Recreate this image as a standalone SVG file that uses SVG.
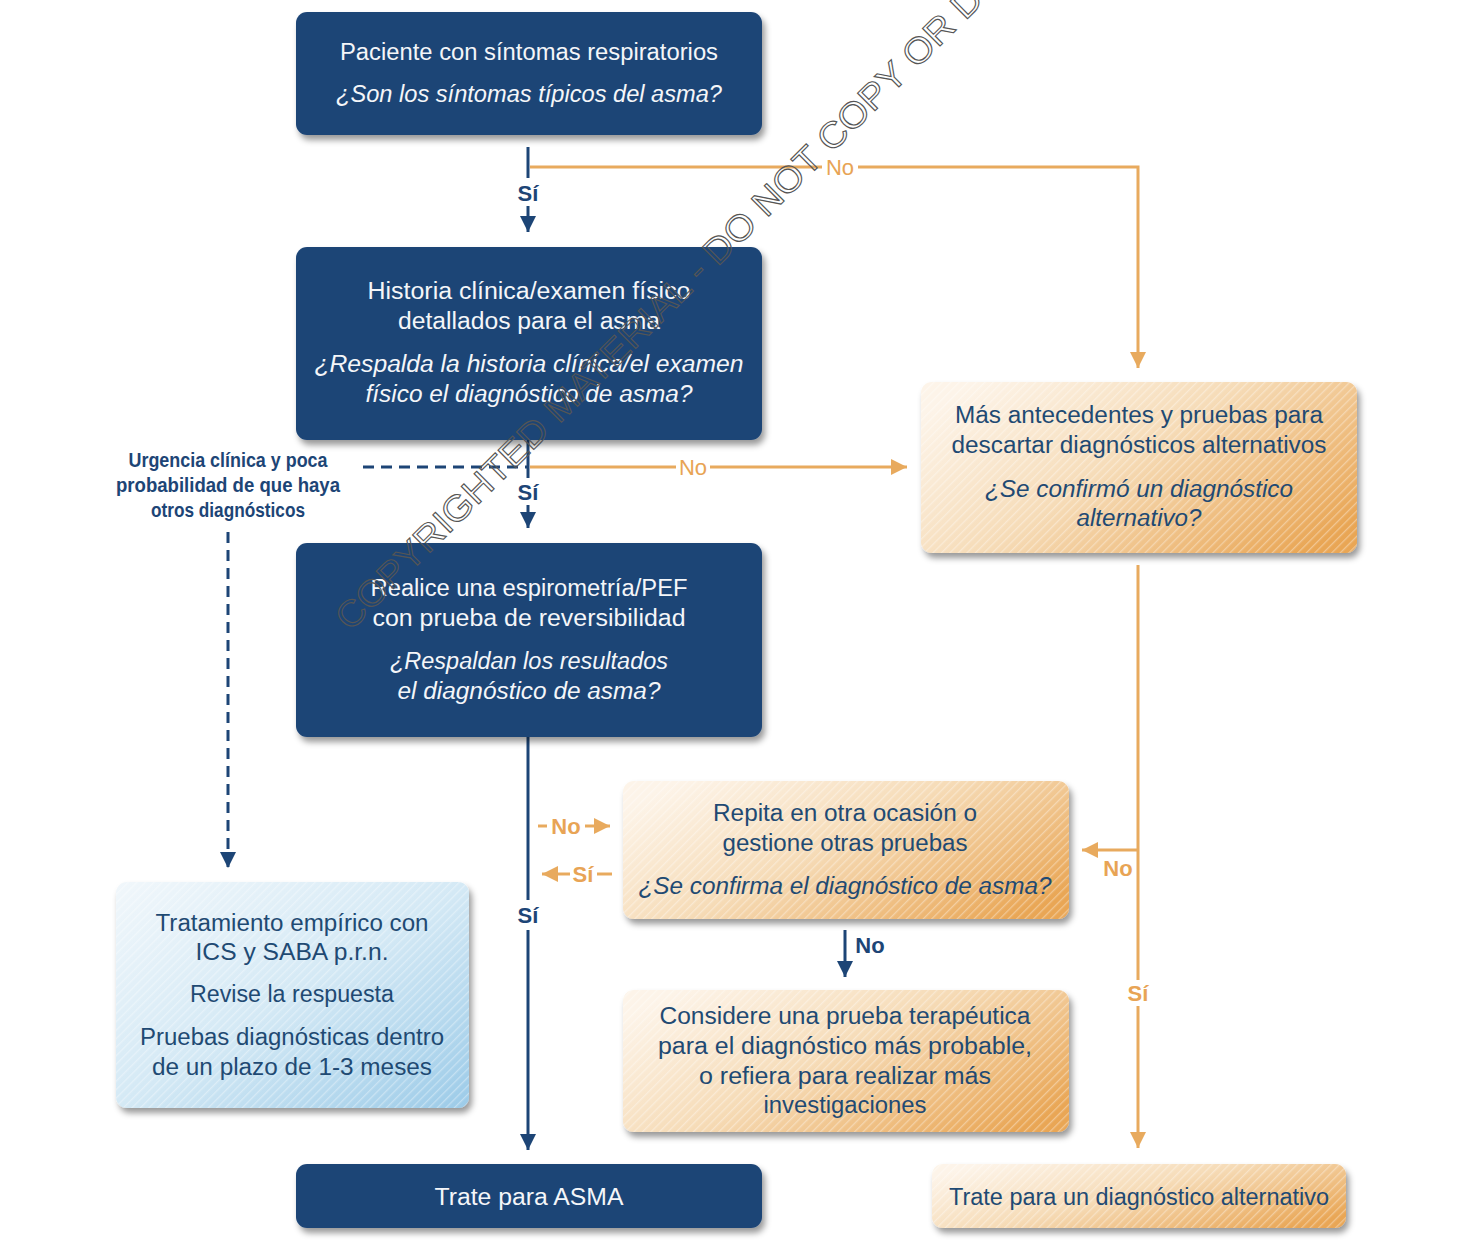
<svg xmlns="http://www.w3.org/2000/svg" width="1480" height="1257" viewBox="0 0 1480 1257">
<defs>
<style>
.t{font-family:"Liberation Sans","DejaVu Sans",sans-serif;font-size:23px;text-anchor:middle}
.w{fill:#f4f6f9}
.d{fill:#1f4a73}
.i{font-style:italic}
.lb{font-family:"Liberation Sans Narrow","Liberation Sans",sans-serif;font-size:22px;font-weight:bold;text-anchor:middle}
.lo{fill:#e8a455}
.ln{fill:#1d4576}
.nv{stroke:#1d4576;stroke-width:3;fill:none}
.or{stroke:#e8aa5e;stroke-width:3;fill:none}
.dash{stroke:#1d4576;stroke-width:3;fill:none;stroke-dasharray:11 7}
</style>
<linearGradient id="og" x1="0" y1="0.2" x2="1" y2="0.8">
<stop offset="0" stop-color="#fdf4e9"/>
<stop offset="0.45" stop-color="#f6dcb8"/>
<stop offset="1" stop-color="#e9a655"/>
</linearGradient>
<linearGradient id="bg" x1="0" y1="0" x2="1" y2="1">
<stop offset="0" stop-color="#f1f7fb"/>
<stop offset="0.5" stop-color="#d4e9f5"/>
<stop offset="1" stop-color="#9ccbe8"/>
</linearGradient>
<pattern id="hatch" width="6" height="6" patternUnits="userSpaceOnUse" patternTransform="rotate(45)">
<rect x="0" y="0" width="1.3" height="6" fill="#ffffff" fill-opacity="0.35"/>
</pattern>
<filter id="sh" x="-10%" y="-10%" width="125%" height="135%">
<feDropShadow dx="3" dy="5" stdDeviation="3" flood-color="#000" flood-opacity="0.4"/>
</filter>
<marker id="an" markerUnits="userSpaceOnUse" markerWidth="18" markerHeight="18" refX="16" refY="8" orient="auto">
<path d="M0,0 L16,8 L0,16 z" fill="#1d4576"/>
</marker>
<marker id="ao" markerUnits="userSpaceOnUse" markerWidth="18" markerHeight="18" refX="16" refY="8" orient="auto">
<path d="M0,0 L16,8 L0,16 z" fill="#e8aa5e"/>
</marker>
</defs>
<rect width="1480" height="1257" fill="#ffffff"/>

<g id="connectors">
<path class="nv" d="M528,147 V178"/>
<path class="nv" d="M528,206 V232" marker-end="url(#an)"/>
<path class="or" d="M530,167 H822"/>
<path class="or" d="M858,167 H1138 V368" marker-end="url(#ao)"/>
<text class="lb lo" x="840" y="175" style="font-weight:normal">No</text>
<text class="lb ln" x="528" y="201">Sí</text>

<path class="nv" d="M528,440 V478"/>
<path class="nv" d="M528,505 V528" marker-end="url(#an)"/>
<text class="lb ln" x="528" y="500">Sí</text>
<path class="dash" d="M363,467 H527"/>
<path class="or" d="M530,467 H676"/>
<path class="or" d="M710,467 H907" marker-end="url(#ao)"/>
<text class="lb lo" x="693" y="475" style="font-weight:normal">No</text>

<path class="dash" d="M228,532 V868" marker-end="url(#an)"/>

<path class="nv" d="M528,737 V900"/>
<path class="nv" d="M528,930 V1150" marker-end="url(#an)"/>
<text class="lb ln" x="528" y="923">Sí</text>

<path class="or" d="M538,826 H547"/>
<text class="lb lo" x="566" y="834">No</text>
<path class="or" d="M585,826 H610" marker-end="url(#ao)"/>
<path class="or" d="M570,874 H542" marker-end="url(#ao)"/>
<text class="lb lo" x="583" y="882">Sí</text>
<path class="or" d="M597,874 H612"/>

<path class="or" d="M1138,565 V980"/>
<path class="or" d="M1138,1006 V1148" marker-end="url(#ao)"/>
<text class="lb lo" x="1138" y="1001">Sí</text>
<path class="or" d="M1138,850 H1082" marker-end="url(#ao)"/>
<text class="lb lo" x="1118" y="876">No</text>

<path class="nv" d="M845,930 V977" marker-end="url(#an)"/>
<text class="lb ln" x="870" y="953">No</text>
</g>

<g id="n1">
<rect x="296" y="12" width="466" height="123" rx="11" fill="#1d4576" filter="url(#sh)"/>
<text class="t w" x="529" y="60" textLength="378" lengthAdjust="spacingAndGlyphs">Paciente con síntomas respiratorios</text>
<text class="t w i" x="529" y="102" textLength="386" lengthAdjust="spacingAndGlyphs">¿Son los síntomas típicos del asma?</text>
</g>

<g id="n2">
<rect x="296" y="247" width="466" height="193" rx="11" fill="#1d4576" filter="url(#sh)"/>
<text class="t w" x="529" y="299" textLength="323" lengthAdjust="spacingAndGlyphs">Historia clínica/examen físico</text>
<text class="t w" x="529" y="329" textLength="262" lengthAdjust="spacingAndGlyphs">detallados para el asma</text>
<text class="t w i" x="529" y="372" textLength="429" lengthAdjust="spacingAndGlyphs">¿Respalda la historia clínica/el examen</text>
<text class="t w i" x="529" y="402" textLength="327" lengthAdjust="spacingAndGlyphs">físico el diagnóstico de asma?</text>
</g>

<g id="n3">
<rect x="296" y="543" width="466" height="194" rx="11" fill="#1d4576" filter="url(#sh)"/>
<text class="t w" x="529" y="596" textLength="317" lengthAdjust="spacingAndGlyphs">Realice una espirometría/PEF</text>
<text class="t w" x="529" y="626" textLength="313" lengthAdjust="spacingAndGlyphs">con prueba de reversibilidad</text>
<text class="t w i" x="529" y="669" textLength="278" lengthAdjust="spacingAndGlyphs">¿Respaldan los resultados</text>
<text class="t w i" x="529" y="699" textLength="263" lengthAdjust="spacingAndGlyphs">el diagnóstico de asma?</text>
</g>

<g id="n4">
<rect x="921" y="382" width="436" height="171" rx="11" fill="url(#og)" filter="url(#sh)"/>
<rect x="921" y="382" width="436" height="171" rx="11" fill="url(#hatch)"/>
<text class="t d" x="1139" y="423" textLength="368" lengthAdjust="spacingAndGlyphs">Más antecedentes y pruebas para</text>
<text class="t d" x="1139" y="453" textLength="375" lengthAdjust="spacingAndGlyphs">descartar diagnósticos alternativos</text>
<text class="t d i" x="1139" y="497" textLength="308" lengthAdjust="spacingAndGlyphs">¿Se confirmó un diagnóstico</text>
<text class="t d i" x="1139" y="526" textLength="125" lengthAdjust="spacingAndGlyphs">alternativo?</text>
</g>

<g id="n5">
<text class="lb ln" x="228" y="467" font-size="20" textLength="199" lengthAdjust="spacingAndGlyphs" style="font-size:20px">Urgencia clínica y poca</text>
<text class="lb ln" x="228" y="492" textLength="224" lengthAdjust="spacingAndGlyphs" style="font-size:20px">probabilidad de que haya</text>
<text class="lb ln" x="228" y="517" textLength="154" lengthAdjust="spacingAndGlyphs" style="font-size:20px">otros diagnósticos</text>
</g>

<g id="n6">
<rect x="623" y="781" width="446" height="138" rx="11" fill="url(#og)" filter="url(#sh)"/>
<rect x="623" y="781" width="446" height="138" rx="11" fill="url(#hatch)"/>
<text class="t d" x="845" y="821" textLength="264" lengthAdjust="spacingAndGlyphs">Repita en otra ocasión o</text>
<text class="t d" x="845" y="851" textLength="245" lengthAdjust="spacingAndGlyphs">gestione otras pruebas</text>
<text class="t d i" x="845" y="894" textLength="413" lengthAdjust="spacingAndGlyphs">¿Se confirma el diagnóstico de asma?</text>
</g>

<g id="n7">
<rect x="623" y="990" width="446" height="142" rx="11" fill="url(#og)" filter="url(#sh)"/>
<rect x="623" y="990" width="446" height="142" rx="11" fill="url(#hatch)"/>
<text class="t d" x="845" y="1024" textLength="371" lengthAdjust="spacingAndGlyphs">Considere una prueba terapéutica</text>
<text class="t d" x="845" y="1054" textLength="374" lengthAdjust="spacingAndGlyphs">para el diagnóstico más probable,</text>
<text class="t d" x="845" y="1084" textLength="292" lengthAdjust="spacingAndGlyphs">o refiera para realizar más</text>
<text class="t d" x="845" y="1113" textLength="163" lengthAdjust="spacingAndGlyphs">investigaciones</text>
</g>

<g id="n8">
<rect x="116" y="882" width="353" height="226" rx="11" fill="url(#bg)" filter="url(#sh)"/>
<rect x="116" y="882" width="353" height="226" rx="11" fill="url(#hatch)"/>
<text class="t d" x="292" y="931" textLength="273" lengthAdjust="spacingAndGlyphs">Tratamiento empírico con</text>
<text class="t d" x="292" y="960" textLength="193" lengthAdjust="spacingAndGlyphs">ICS y SABA p.r.n.</text>
<text class="t d" x="292" y="1002" textLength="204" lengthAdjust="spacingAndGlyphs">Revise la respuesta</text>
<text class="t d" x="292" y="1045" textLength="304" lengthAdjust="spacingAndGlyphs">Pruebas diagnósticas dentro</text>
<text class="t d" x="292" y="1075" textLength="280" lengthAdjust="spacingAndGlyphs">de un plazo de 1-3 meses</text>
</g>

<g id="n9">
<rect x="296" y="1164" width="466" height="64" rx="11" fill="#1d4576" filter="url(#sh)"/>
<text class="t w" x="529" y="1205" textLength="189" lengthAdjust="spacingAndGlyphs">Trate para ASMA</text>
</g>

<g id="n10">
<rect x="932" y="1164" width="414" height="64" rx="11" fill="url(#og)" filter="url(#sh)"/>
<rect x="932" y="1164" width="414" height="64" rx="11" fill="url(#hatch)"/>
<text class="t d" x="1139" y="1205" textLength="380" lengthAdjust="spacingAndGlyphs">Trate para un diagnóstico alternativo</text>
</g>

<g id="watermark">
<text x="0" y="0" transform="translate(350,632) rotate(-44.8)" font-family="Liberation Sans, sans-serif" font-size="36" fill="none" stroke="#555555" stroke-width="1.1" textLength="895" lengthAdjust="spacingAndGlyphs">COPYRIGHTED MATERIAL - DO NOT COPY OR D</text>
</g>
</svg>
